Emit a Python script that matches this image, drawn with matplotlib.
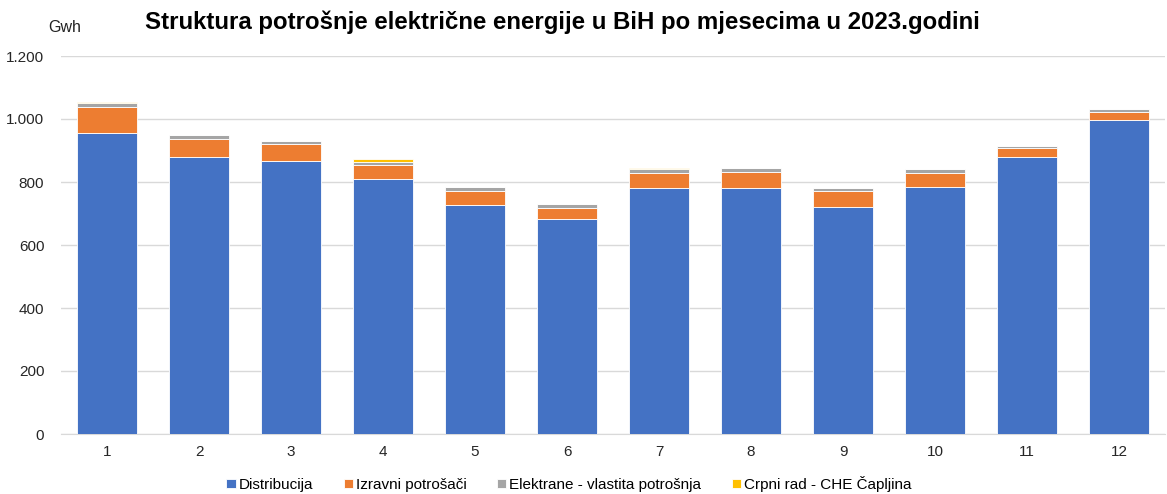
import matplotlib
matplotlib.use("Agg")
import matplotlib.pyplot as plt
from matplotlib.ticker import FuncFormatter

plt.rcParams['font.family'] = ['Liberation Sans', 'DejaVu Sans']

months = ['1', '2', '3', '4', '5', '6', '7', '8', '9', '10', '11', '12']
distribucija = [955, 880, 866, 811, 728, 684, 782, 782, 722, 783, 878, 998]
izravni = [84, 55, 54, 43, 45, 35, 48, 51, 49, 47, 29, 24]
elektrane = [13, 13, 11, 11, 10, 10, 11, 11, 9, 10, 7, 11]
crpni = [3, 1, 0, 7, 1, 0, 4, 0, 1, 2, 0, 0]

series = [
    ('Distribucija', distribucija, '#4472C4'),
    ('Izravni potrošači', izravni, '#ED7D31'),
    ('Elektrane - vlastita potrošnja', elektrane, '#A5A5A5'),
    ('Crpni rad - CHE Čapljina', crpni, '#FFC000'),
]

fig = plt.figure(figsize=(11.67, 4.94), dpi=100)
ax = fig.add_axes([61/1167, 60/494, (1165-61)/1167, (434-56)/494])

x = list(range(len(months)))
bottom = [0]*len(months)
for name, vals, col in series:
    ax.bar(x, vals, width=0.65, bottom=bottom, color=col, label=name,
           edgecolor='white', linewidth=0.6, zorder=3)
    bottom = [b+v for b, v in zip(bottom, vals)]

ax.set_xlim(-0.5, len(months)-0.5)
ax.set_ylim(0, 1200)
ax.set_yticks(range(0, 1201, 200))
ax.yaxis.set_major_formatter(FuncFormatter(lambda v, p: f"{int(v):,}".replace(',', '.')))
ax.set_xticks(x)
ax.set_xticklabels(months)
ax.grid(axis='y', color='#D9D9D9', linewidth=1, zorder=0)
for s in ['left', 'right', 'top']:
    ax.spines[s].set_visible(False)
ax.spines['bottom'].set_color('#D9D9D9')
ax.tick_params(axis='both', length=0, labelsize=11, colors='#262626')
ax.tick_params(axis='y', pad=12)
ax.tick_params(axis='x', pad=8)

fig.text(48/1167, 1-27/494, 'Gwh', fontsize=11.5, va='center', ha='left', color='#222222')
fig.text(562/1167, 1-22/494, 'Struktura potrošnje električne energije u BiH po mjesecima u 2023.godini',
         fontsize=17.3, fontweight='bold', ha='center', va='center')

fig.legend(loc='center', bbox_to_anchor=(569/1167, 1-484/494), ncol=4, frameon=False,
           fontsize=11, handlelength=0.6, handleheight=0.6, handletextpad=0.2, columnspacing=2.0)

fig.savefig('out.png', dpi=100)
